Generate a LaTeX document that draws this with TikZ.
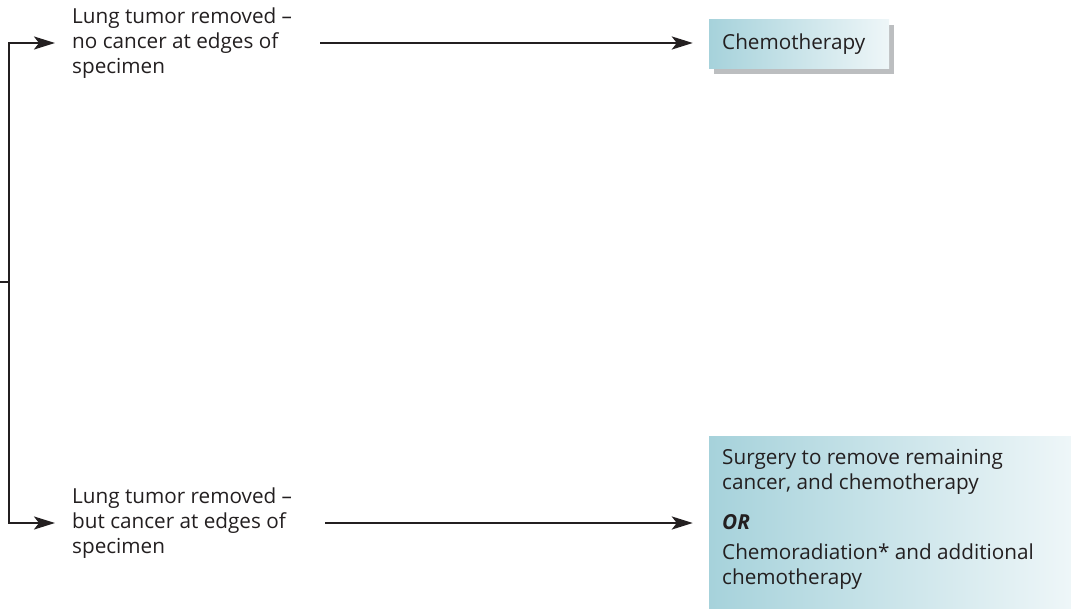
\documentclass[tikz,border=0pt]{standalone}
\usepackage{fontspec}
\setmainfont{Open Sans}
\usetikzlibrary{arrows.meta,shadows}
\definecolor{ink}{HTML}{231F20}
\definecolor{tealdark}{HTML}{A6D2DB}
\definecolor{teallight}{HTML}{EEF6F8}
\definecolor{shadowgray}{HTML}{BCBEC0}
\begin{document}
\begin{tikzpicture}[x=1bp,y=-1bp,
  txt/.style={anchor=west,align=left,inner sep=0pt,text=ink,
    font=\fontsize{20.7bp}{25bp}\selectfont},
  conn/.style={draw=ink,line width=2.4bp},
  arr/.style={conn,-{Stealth[length=21bp,width=13bp,inset=5bp]}},
  treat/.style={rectangle,inner sep=0pt,left color=tealdark,right color=teallight,draw=none},
  shade/.style={drop shadow={fill=shadowgray,opacity=1,shadow xshift=5bp,shadow yshift=-5bp}}]
\useasboundingbox (0,0) rectangle (1071,609);

% treatment boxes
\node[treat,shade,minimum width=180bp,minimum height=49bp] (chemo) at (799,44.5) {};
\node[txt] (chemotxt) at (722,44) {Chemotherapy};
\node[treat,minimum width=362bp,minimum height=173bp] (options) at (890,522.5) {};

\node[txt] (opt1) at (722,472) {Surgery to remove remaining\\cancer, and chemotherapy};
\node[txt] (optor) at (722,522) {\bfseries\itshape OR};
\node[txt] (opt2) at (722,567) {Chemoradiation* and additional\\chemotherapy};

% outcomes after surgery
\node[txt] (clear) at (72,43) {Lung tumor removed –\\no cancer at edges of\\specimen};
\node[txt] (margin) at (72,523) {Lung tumor removed –\\but cancer at edges of\\specimen};

% branching connectors
\coordinate (stub) at (0,282);
\coordinate (split) at (9,282);
\coordinate (clearin) at ([xshift=-17bp]clear.west);
\coordinate (marginin) at ([xshift=-17bp]margin.west);
\coordinate (clearout) at ([xshift=311bp]split |- clear.west);
\coordinate (marginout) at ([xshift=316bp]split |- margin.west);
\coordinate (chemoin) at ([xshift=-16bp]chemo.west);
\coordinate (optionsin) at ([xshift=-16bp]options.west);

\draw[conn] (stub) -- (split);
\draw[arr] (split) |- (clearin);
\draw[arr] (split) |- (marginin);
\draw[arr] (clearout) -- (clearout -| chemoin);
\draw[arr] (marginout) -- (marginout -| optionsin);
\end{tikzpicture}
\end{document}
